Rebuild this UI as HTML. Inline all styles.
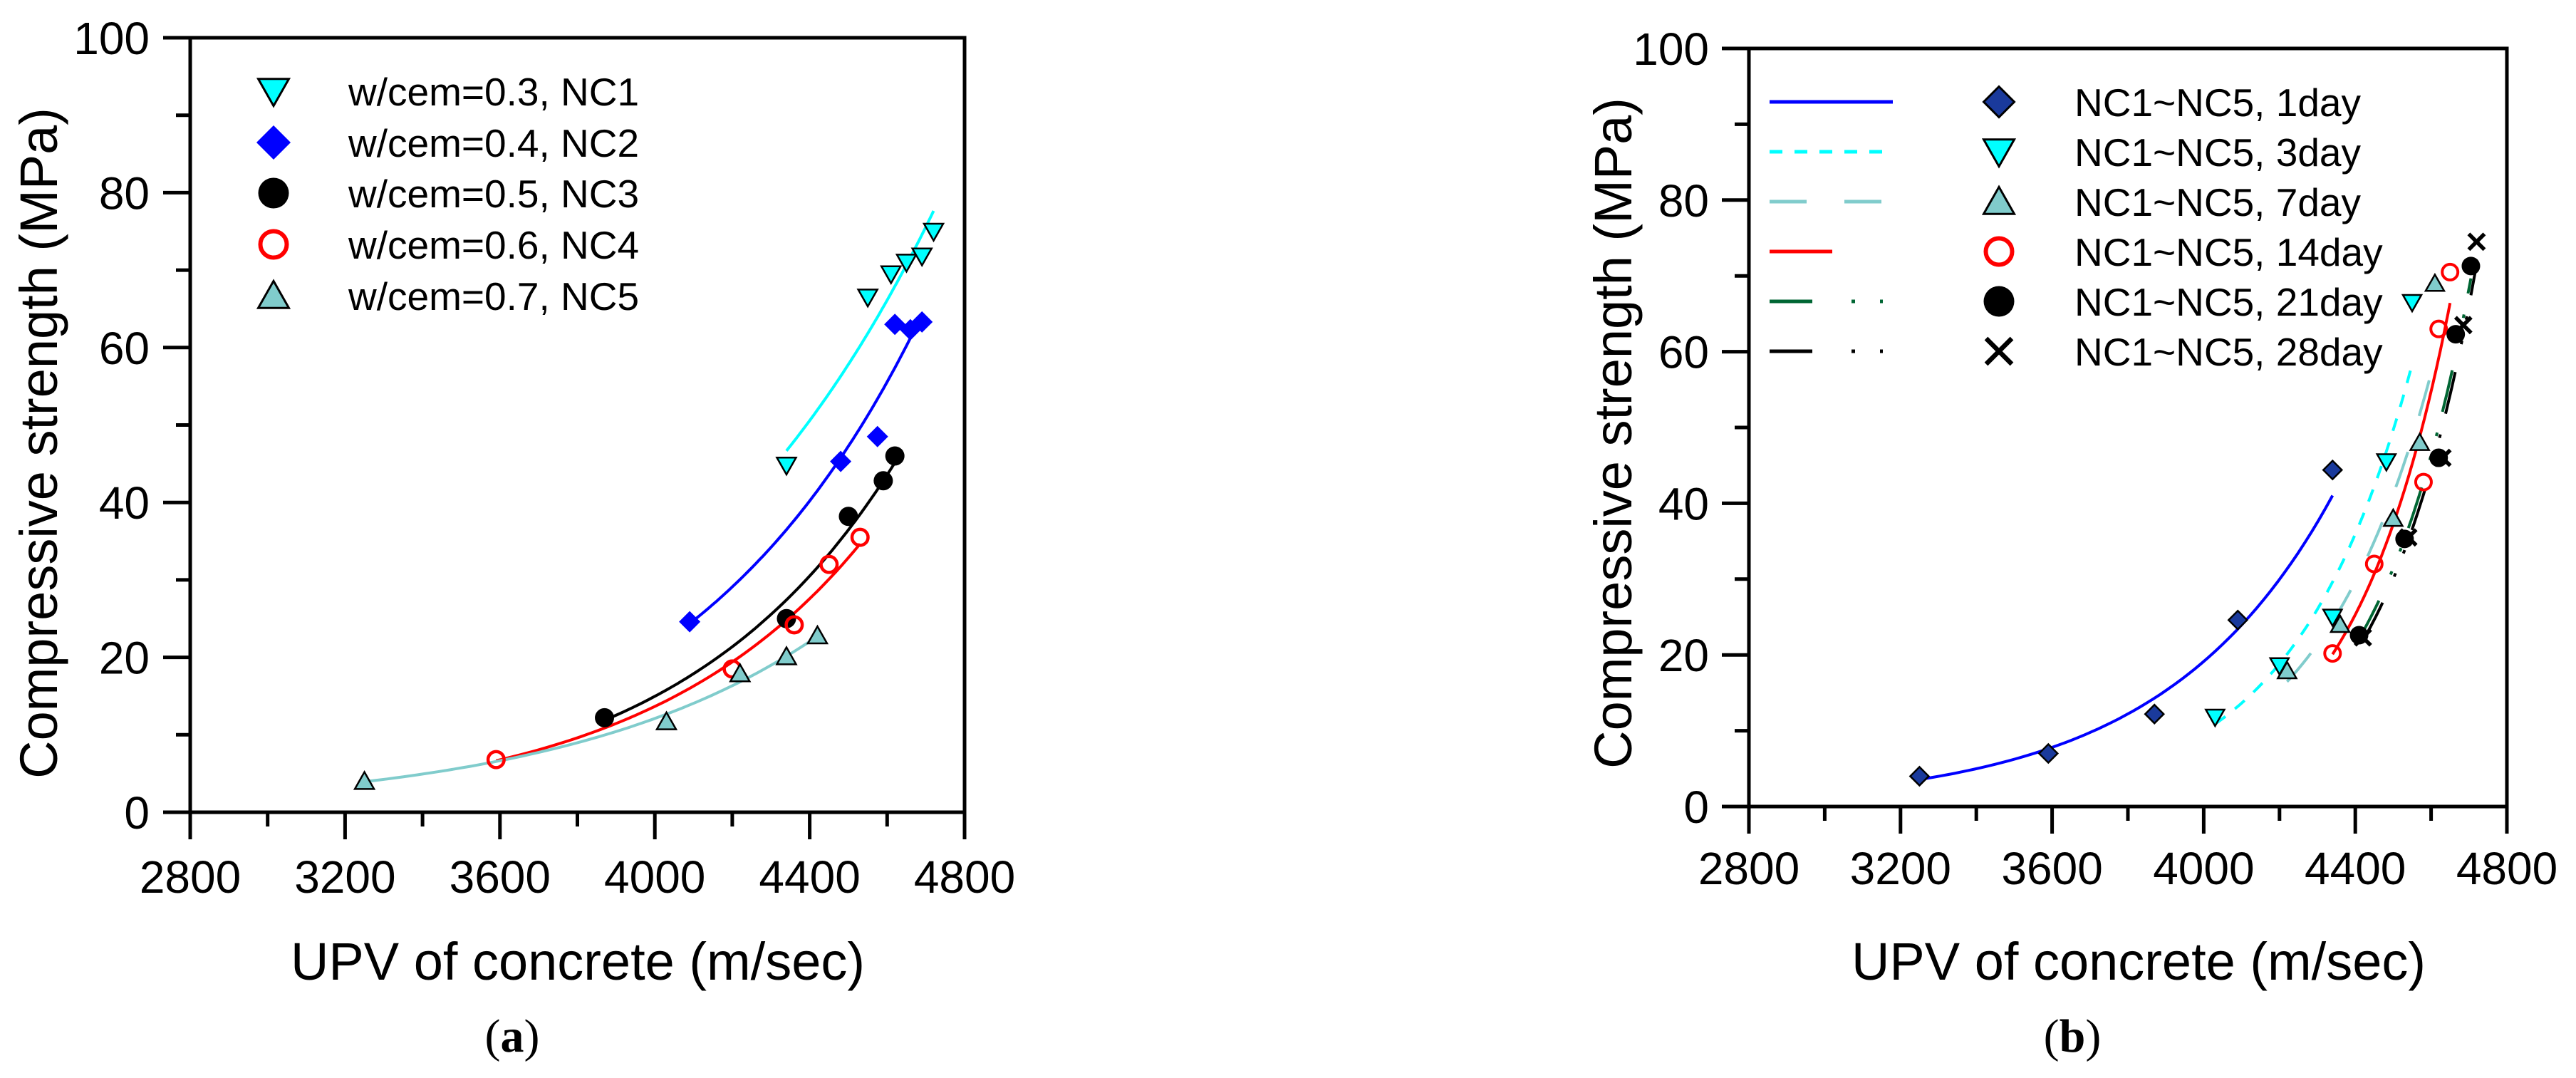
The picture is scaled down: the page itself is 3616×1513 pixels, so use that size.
<!DOCTYPE html>
<html><head><meta charset="utf-8"><style>
html,body{margin:0;padding:0;background:#fff;}
svg{display:block;}
text{font-family:"Liberation Sans",Arial,sans-serif;fill:#000;}
.serif{font-family:"Liberation Serif",serif;}
</style></head><body>
<svg id="fig" width="3616" height="1513" viewBox="0 0 3616 1513" xmlns="http://www.w3.org/2000/svg">
<rect width="3616" height="1513" fill="#fff"/>
<g id="pa"></g>
<g id="pb"></g>
</svg>
<script>
// ---- data: chart (a) ----
const xTicks = [2800, 3200, 3600, 4000, 4400, 4800];
const yTicks = [0, 20, 40, 60, 80, 100];
const aNames = ["w/cem=0.3, NC1","w/cem=0.4, NC2","w/cem=0.5, NC3","w/cem=0.6, NC4","w/cem=0.7, NC5"];
const nc1X = [4340, 4550, 4610, 4650, 4690, 4720];
const nc1Y = [44.8, 66.5, 69.5, 71.0, 71.8, 75.0];
const nc2X = [4090, 4480, 4575, 4620, 4660, 4690];
const nc2Y = [24.6, 45.3, 48.5, 63.0, 62.3, 63.3];
const nc3X = [3870, 4340, 4500, 4590, 4620];
const nc3Y = [12.2, 25.0, 38.2, 42.8, 46.0];
const nc4X = [3590, 4200, 4360, 4450, 4530];
const nc4Y = [6.8, 18.5, 24.2, 32.0, 35.5];
const nc5X = [3250, 4030, 4220, 4340, 4420];
const nc5Y = [4.0, 11.7, 17.9, 20.1, 22.8];
// ---- data: chart (b) ----
const bNames = ["NC1~NC5, 1day","NC1~NC5, 3day","NC1~NC5, 7day","NC1~NC5, 14day","NC1~NC5, 21day","NC1~NC5, 28day"];
const d1X = [3250, 3590, 3870, 4090, 4340];
const d1Y = [4.0, 7.0, 12.2, 24.6, 44.4];
const d3X = [4030, 4200, 4340, 4482, 4550];
const d3Y = [11.8, 18.6, 25.0, 45.5, 66.5];
const d7X = [4220, 4360, 4500, 4570, 4610];
const d7Y = [17.9, 24.0, 38.0, 48.0, 69.0];
const d14X = [4340, 4450, 4580, 4620, 4650];
const d14Y = [20.2, 32.0, 42.8, 63.0, 70.5];
const d21X = [4410, 4530, 4620, 4665, 4705];
const d21Y = [22.6, 35.3, 46.0, 62.3, 71.3];
const d28X = [4420, 4540, 4630, 4685, 4720];
const d28Y = [22.3, 35.5, 46.0, 63.5, 74.5];

const NS = "http://www.w3.org/2000/svg";
function mk(tag, attrs, parent){ const e=document.createElementNS(NS,tag); for(const k in attrs) e.setAttribute(k,attrs[k]); parent.appendChild(e); return e; }

function fitExp(xs, ys){ // ln y = a + b x
  const n=xs.length; let sx=0,sy=0,sxx=0,sxy=0;
  for(let i=0;i<n;i++){const l=Math.log(ys[i]); sx+=xs[i]; sy+=l; sxx+=xs[i]*xs[i]; sxy+=xs[i]*l;}
  const b=(n*sxy-sx*sy)/(n*sxx-sx*sx); const a=(sy-b*sx)/n; return x=>Math.exp(a+b*x);
}

function marker(g, type, cx, cy, s, fill, sw){
  let e;
  if(type==="tdown") e=mk("polygon",{points:`${cx-s/2},${cy-s*0.4} ${cx+s/2},${cy-s*0.4} ${cx},${cy+s*0.48}`,fill:fill,stroke:"#000","stroke-width":sw},g);
  else if(type==="tup") e=mk("polygon",{points:`${cx-s/2},${cy+s*0.4} ${cx+s/2},${cy+s*0.4} ${cx},${cy-s*0.48}`,fill:fill,stroke:"#000","stroke-width":sw},g);
  else if(type==="diamond") e=mk("polygon",{points:`${cx},${cy-s/2} ${cx+s/2},${cy} ${cx},${cy+s/2} ${cx-s/2},${cy}`,fill:fill,stroke:sw?"#000":"none","stroke-width":sw},g);
  else if(type==="circle") e=mk("circle",{cx:cx,cy:cy,r:s/2,fill:fill},g);
  else if(type==="ring") e=mk("circle",{cx:cx,cy:cy,r:s/2-sw/2,fill:"none",stroke:fill,"stroke-width":sw},g);
  else { e=mk("path",{d:`M${cx-s/2},${cy-s/2}L${cx+s/2},${cy+s/2}M${cx+s/2},${cy-s/2}L${cx-s/2},${cy+s/2}`,stroke:fill,"stroke-width":sw*2.2,fill:"none"},g); }
  return e;
}

function axes(g, L, R, T, B, labRight, tickLabY){
  const sx=v=>L+(v-2800)/2000*(R-L), sy=v=>B-v/100*(B-T);
  const ax=mk("g",{},g);
  
  
  mk("rect",{x:L,y:T,width:R-L,height:B-T,fill:"none",stroke:"#000","stroke-width":5},ax);
  for(let v=2800; v<=4800; v+=200){
    const major = xTicks.includes(v);
    mk("line",{x1:sx(v),x2:sx(v),y1:B,y2:B+(major?38:20),stroke:"#000","stroke-width":5},ax);
  }
  for(let v=0; v<=100; v+=10){
    const major = yTicks.includes(v);
    mk("line",{x1:L-(major?38:20),x2:L,y1:sy(v),y2:sy(v),stroke:"#000","stroke-width":5},ax);
  }
  xTicks.forEach(v=>{ const t=mk("text",{x:sx(v),y:tickLabY,"font-size":64,"text-anchor":"middle"},g); t.textContent=v;
    
     });
  yTicks.forEach(v=>{ const t=mk("text",{x:labRight,y:sy(v)+23,"font-size":64,"text-anchor":"end"},g); t.textContent=v;
    
     });
  return {sx,sy};
}

function titles(g, xc, yTitleX, yc, capX, letter){
  const t1=mk("text",{x:xc,y:1375,"font-size":74,"text-anchor":"middle"},g); t1.textContent="UPV of concrete (m/sec)";
  
  
  const t2=mk("text",{x:0,y:0,"font-size":74,"text-anchor":"middle",transform:`translate(${yTitleX},${yc}) rotate(-90)`},g); t2.textContent="Compressive strength (MPa)";
  
  
  const t3=mk("text",{x:capX,y:1476,"font-size":66,"text-anchor":"middle","class":"serif"},g);
  t3.innerHTML=`(<tspan font-weight="bold">${letter}</tspan>)`;
  
  
}

function drawCurve(g, s, xs, ys, color, dash, sw, name){
  const f=fitExp(xs,ys); const x0=Math.min(...xs), x1=Math.max(...xs);
  let d=""; for(let i=0;i<=60;i++){const x=x0+(x1-x0)*i/60; d+=(i?"L":"M")+s.sx(x).toFixed(1)+","+s.sy(f(x)).toFixed(1);}
  const p=mk("path",{d:d,fill:"none",stroke:color,"stroke-width":sw},g);
  if(dash) p.setAttribute("stroke-dasharray",dash);
  
  
}

// ---- chart (a) ----
(function(){
  const g=document.getElementById("pa");
  const s=axes(g,267,1354,53,1140,210,1253);
  titles(g,811,80,622,719,"a");
  const series=[
    [nc1X,nc1Y,"#00ffff","tdown","#00ffff",2.5],
    [nc2X,nc2Y,"#0000ff","diamond","#0000ff",0],
    [nc3X,nc3Y,"#000000","circle","#000",0],
    [nc4X,nc4Y,"#ff0000","ring","#ff0000",4.5],
    [nc5X,nc5Y,"#80cccc","tup","#80cccc",2.5]
  ];
  series.forEach((sr,i)=>drawCurve(g,s,sr[0],sr[1],sr[2],null,4,"fit-line-nc"+(i+1)));
  series.forEach((sr,i)=>{
    sr[0].forEach((x,j)=>{ const m=marker(g,sr[3],s.sx(x),s.sy(sr[1][j]),sr[3]==="diamond"?30:27,sr[4],sr[5]);
      
       });
  });
  const rows=[128,200,271,343,415];
  series.forEach((sr,i)=>{
    const lg=mk("g",{},g);
    
    
    marker(lg,sr[3],384,rows[i],sr[3]==="diamond"?48:43,sr[4],sr[5]?(sr[3]==="ring"?6:3):0);
    const t=mk("text",{x:489,y:rows[i]+20,"font-size":55},lg); t.textContent=aNames[i];
  });
})();

// ---- chart (b) ----
(function(){
  const g=document.getElementById("pb");
  const s=axes(g,2455,3519,68,1132,2399,1241);
  titles(g,3002,2290,608,2909,"b");
  const series=[
    [d1X,d1Y,"#0000ff",null,"diamond","#1a3a9c",2.5],
    [d3X,d3Y,"#00ffff","18,17","tdown","#00ffff",2.5],
    [d7X,d7Y,"#80cccc","52,53","tup","#80cccc",2.5],
    [d14X,d14Y,"#ff0000",null,"ring","#ff0000",4],
    [d21X,d21Y,"#006633","60,40,5,30,5,30","circle","#000",0],
    [d28X,d28Y,"#000000","60,40,5,30,5,30","cross","#000",2.5]
  ];
  series.forEach((sr,i)=>drawCurve(g,s,sr[0],sr[1],sr[2],sr[3],4,"fit-line-"+bNames[i].split(", ")[1]));
  series.forEach((sr,i)=>{
    sr[0].forEach((x,j)=>{ const m=marker(g,sr[4],s.sx(x),s.sy(sr[1][j]),sr[4]==="cross"?22:26,sr[5],sr[6]);
      
       });
  });
  const legDash=[null,"18,17","52,53",null,"60,55,5,35,5,30","60,55,5,35,5,30"];
  const legEnd=[2657,2643,2643,2572,2643,2643];
  series.forEach((sr,i)=>{
    const y=143+70*i;
    const lg=mk("g",{},g);
    
    
    const ln=mk("line",{x1:2484,x2:legEnd[i],y1:y,y2:y,stroke:sr[2],"stroke-width":5},lg);
    if(legDash[i]) ln.setAttribute("stroke-dasharray",legDash[i]);
    marker(lg,sr[4],2806,y,sr[4]==="cross"?36:43,sr[5],sr[4]==="ring"?6:(sr[6]?3:0));
    const t=mk("text",{x:2912,y:y+20,"font-size":55},lg); t.textContent=bNames[i];
  });
})();
</script>
</body></html>
